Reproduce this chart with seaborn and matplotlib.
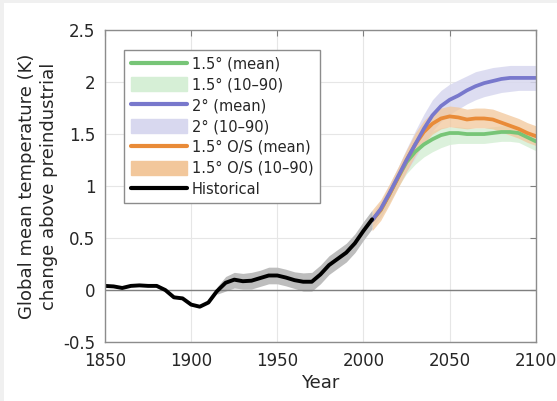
import seaborn as sns
import matplotlib.pyplot as plt
import matplotlib.patches as mpatches
from matplotlib.lines import Line2D
import pandas as pd

# historical record (5-year steps)
hist_years = list(range(1850, 2010, 5))
hist_mean = [0.04, 0.035, 0.02, 0.04, 0.045, 0.04, 0.04, 0.0, -0.07, -0.08,
             -0.14, -0.16, -0.12, -0.01, 0.07, 0.10, 0.085, 0.09, 0.115, 0.14,
             0.14, 0.12, 0.095, 0.08, 0.08, 0.15, 0.24, 0.30, 0.36, 0.45,
             0.57, 0.68]
hist_band_years = list(range(1915, 2010, 5))
hist_lo = [-0.04, -0.01, 0.02, 0.01, 0.01, 0.035, 0.06, 0.06, 0.04, 0.015, -0.01,
           -0.01, 0.06, 0.15, 0.21, 0.27, 0.36, 0.48, 0.59]
hist_hi = [0.03, 0.13, 0.17, 0.16, 0.17, 0.19, 0.22, 0.22, 0.20, 0.175, 0.165,
           0.17, 0.24, 0.33, 0.39, 0.45, 0.54, 0.66, 0.77]

# scenarios
scen_years = list(range(2005, 2105, 5))
g_mean = [0.67, 0.77, 0.92, 1.08, 1.23, 1.33, 1.40, 1.45, 1.49, 1.51,
          1.51, 1.50, 1.50, 1.50, 1.51, 1.52, 1.52, 1.51, 1.47, 1.43]
g_lo = [0.61, 0.70, 0.84, 0.99, 1.12, 1.21, 1.28, 1.33, 1.37, 1.40,
        1.41, 1.41, 1.41, 1.41, 1.42, 1.43, 1.43, 1.42, 1.38, 1.34]
g_hi = [0.73, 0.84, 0.99, 1.16, 1.32, 1.42, 1.49, 1.53, 1.56, 1.57,
        1.57, 1.56, 1.56, 1.56, 1.57, 1.58, 1.58, 1.57, 1.53, 1.49]
b_mean = [0.67, 0.78, 0.93, 1.09, 1.25, 1.40, 1.55, 1.68, 1.77, 1.83,
          1.87, 1.92, 1.96, 1.99, 2.01, 2.03, 2.04, 2.04, 2.04, 2.04]
b_lo = [0.61, 0.71, 0.85, 1.00, 1.14, 1.27, 1.41, 1.53, 1.62, 1.69,
        1.74, 1.79, 1.83, 1.86, 1.88, 1.90, 1.91, 1.92, 1.92, 1.92]
b_hi = [0.73, 0.85, 1.01, 1.18, 1.36, 1.53, 1.69, 1.83, 1.92, 1.98,
        2.02, 2.06, 2.10, 2.12, 2.14, 2.15, 2.16, 2.16, 2.16, 2.16]
o_mean = [0.67, 0.77, 0.92, 1.08, 1.25, 1.40, 1.52, 1.60, 1.65, 1.67,
          1.66, 1.64, 1.65, 1.65, 1.64, 1.61, 1.58, 1.55, 1.51, 1.48]
o_lo = [0.57, 0.67, 0.82, 0.98, 1.14, 1.29, 1.41, 1.50, 1.55, 1.57,
        1.56, 1.55, 1.56, 1.56, 1.55, 1.52, 1.49, 1.46, 1.42, 1.39]
o_hi = [0.77, 0.87, 1.02, 1.18, 1.35, 1.51, 1.63, 1.71, 1.75, 1.77,
        1.76, 1.74, 1.75, 1.75, 1.74, 1.71, 1.68, 1.65, 1.61, 1.58]

green, green_b = '#77c577', '#d6efd6'
blue, blue_b = '#7878cc', '#d8d8ef'
orange, orange_b = '#e98b38', '#f2c79b'

hist = pd.DataFrame({'Year': hist_years, 'T': hist_mean})
scen = pd.DataFrame({'Year': scen_years, 'g': g_mean, 'b': b_mean, 'o': o_mean})

sns.set_style('white')
fig = plt.figure(figsize=(5.57, 4.01), dpi=100, facecolor='#f0f0f0')
fig.patches.append(mpatches.Rectangle((4 / 557, 0), 1, 398 / 401,
                                      transform=fig.transFigure,
                                      facecolor='white', edgecolor='none', zorder=-10))
ax = fig.add_axes([0.1885, 0.147, 0.7735, 0.778])

ax.fill_between(scen_years, g_lo, g_hi, color=green_b, alpha=0.85, lw=0)
ax.fill_between(scen_years, b_lo, b_hi, color=blue_b, alpha=0.85, lw=0)
ax.fill_between(scen_years, o_lo, o_hi, color=orange_b, alpha=0.75, lw=0)
ax.fill_between(hist_band_years, hist_lo, hist_hi, color='#bdbdbd', lw=0)

sns.lineplot(data=scen, x='Year', y='g', color=green, lw=2.7, ax=ax)
sns.lineplot(data=scen, x='Year', y='o', color=orange, lw=2.7, ax=ax)
sns.lineplot(data=scen, x='Year', y='b', color=blue, lw=2.7, ax=ax)
sns.lineplot(data=hist, x='Year', y='T', color='black', lw=2.8, ax=ax)

ax.axhline(0, color='#7f7f7f', lw=1, zorder=1.5)
ax.set_xlim(1850, 2100)
ax.set_ylim(-0.5, 2.5)
ax.set_xticks(range(1850, 2101, 50))
ax.set_yticks([-0.5, 0, 0.5, 1, 1.5, 2, 2.5])
ax.set_yticklabels(['-0.5', '0', '0.5', '1', '1.5', '2', '2.5'])
ax.grid(True, color='#e6e6e6', lw=0.8)
ax.tick_params(direction='in', length=4, top=True, right=True, labelsize=12,
               colors='#7f7f7f', labelcolor='#262626')
ax.tick_params(axis='y', pad=7)
ax.tick_params(axis='x', pad=7)
for s in ax.spines.values():
    s.set_color('#8c8c8c')
    s.set_linewidth(1)
ax.set_xlabel('Year', fontsize=13, color='#262626', labelpad=3)
ax.set_ylabel('Global mean temperature (K)\nchange above preindustrial',
              fontsize=13, color='#262626', labelpad=4, linespacing=1.25)

handles = [
    Line2D([], [], color=green, lw=3),
    mpatches.Patch(color=green_b),
    Line2D([], [], color=blue, lw=3),
    mpatches.Patch(color=blue_b),
    Line2D([], [], color=orange, lw=3),
    mpatches.Patch(color=orange_b),
    Line2D([], [], color='black', lw=3),
]
labels = ['1.5° (mean)', '1.5° (10–90)', '2° (mean)', '2° (10–90)',
          '1.5° O/S (mean)', '1.5° O/S (10–90)', 'Historical']
leg = ax.legend(handles, labels, loc='upper left', bbox_to_anchor=(0.044, 0.936),
                borderaxespad=0, fontsize=10.5, handlelength=3.9, handleheight=1.1,
                handletextpad=0.3, labelspacing=0.4, fancybox=False,
                framealpha=1, edgecolor='#8c8c8c', borderpad=0.45)
leg.get_frame().set_linewidth(1)

plt.savefig('out.png', dpi=100, facecolor=fig.get_facecolor())
